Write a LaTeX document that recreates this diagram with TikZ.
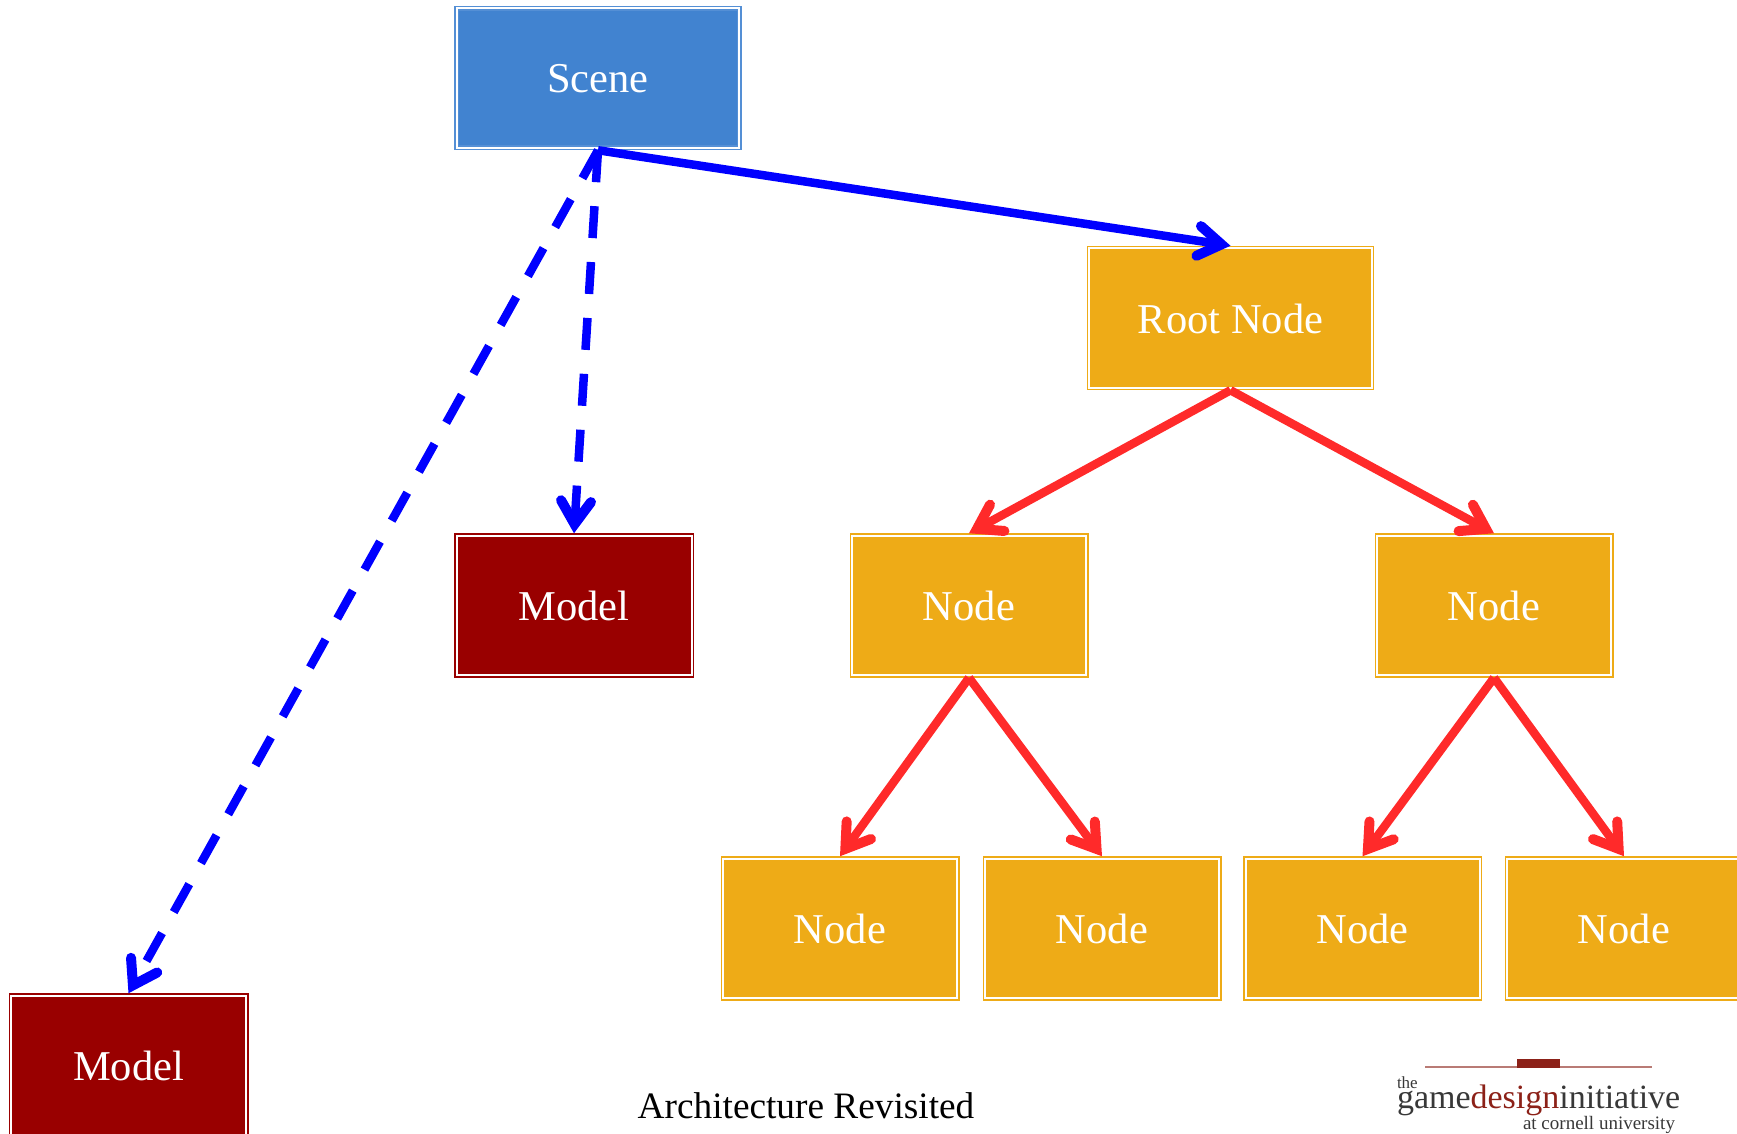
\documentclass[tikz,border=0pt]{standalone}
\usepackage{fontspec}
\setmainfont{Liberation Serif}
\usetikzlibrary{arrows.meta}
\definecolor{orangebox}{HTML}{EEAB17}
\definecolor{scenebox}{HTML}{4183D0}
\definecolor{modelbox}{HTML}{990000}
\definecolor{arrowred}{HTML}{FF2A2A}
\definecolor{logored}{HTML}{8C2118}
\definecolor{logoline}{HTML}{B97B75}
\definecolor{logogray}{HTML}{383838}
\tikzset{
  x=1pt,y=-1pt,
  box/.style={line width=1.5pt,double=white,double distance=2pt,outer sep=2.5pt,inner sep=0pt,
    text=white,font=\fontsize{42.5}{48}\selectfont,text height=30pt,text depth=0pt,
    minimum height=139.5pt},
  scenestyle/.style={box,draw=scenebox!90!white,fill=scenebox,minimum width=282.5pt},
  rootstyle/.style={box,draw=orangebox,fill=orangebox,minimum width=282.5pt},
  treestyle/.style={box,draw=orangebox,fill=orangebox,minimum width=234pt},
  modelstyle/.style={box,draw=modelbox,fill=modelbox,minimum width=235pt},
  barb/.style={-{Straight Barb[length=23pt,width=30pt,line width=10pt,line cap=round,line join=miter]},line width=8.5pt},
  hasmodel/.style={barb,draw=blue,dash pattern=on 32pt off 24pt},
  hasroot/.style={barb,draw=blue},
  child/.style={barb,draw=arrowred},
  plain/.style={inner sep=0pt,outer sep=0pt,anchor=base west}
}
\begin{document}
\begin{tikzpicture}
\clip (0,0) rectangle (1737,1134);
\node[scenestyle] (scene) at (598,78) {Scene};
\node[rootstyle] (root) at (1230.5,318) {Root Node};
\node[modelstyle] (modelA) at (574,605.5) {Model};
\node[modelstyle] (modelB) at (128.5,1065.5) {Model};
\node[treestyle] (left) at (969,605.5) {Node};
\node[treestyle] (right) at (1494,605.5) {Node};
\node[treestyle] (ll) at (840,928.5) {Node};
\node[treestyle] (lr) at (1102,928.5) {Node};
\node[treestyle] (rl) at (1362.5,928.5) {Node};
\node[treestyle] (rr) at (1624,928.5) {Node};
\draw[hasroot] (scene.south) -- (root.north);
\draw[hasmodel] (scene.south) -- (modelA.north);
\draw[hasmodel] (scene.south) -- (modelB.north);
\draw[child] (root.south) -- (left.north);
\draw[child] (root.south) -- (right.north);
\draw[child] (left.south) -- (ll.north);
\draw[child] (left.south) -- (lr.north);
\draw[child] (right.south) -- (rl.north);
\draw[child] (right.south) -- (rr.north);
\node[font=\fontsize{37.3}{42}\selectfont,inner sep=0pt,anchor=base] (title) at (806,1118) {Architecture Revisited};
\coordinate (ruleA) at (1425,1067);
\coordinate (ruleB) at (1652,1067);
\draw[logoline,line width=1.5pt] (ruleA) -- (ruleB);
\fill[logored] (1517,1059) rectangle (1560,1067.5);
\node[plain,text=logogray,font=\fontsize{17}{20}\selectfont] (the) at (1397,1088) {the};
\node[plain,text=logogray,font=\fontsize{34}{38}\selectfont] (gdi) at (1397,1108) {game\textcolor{logored}{design}initiative};
\node[plain,text=logogray,font=\fontsize{19}{22}\selectfont] (cu) at (1523,1129) {at cornell university};
\end{tikzpicture}
\end{document}
